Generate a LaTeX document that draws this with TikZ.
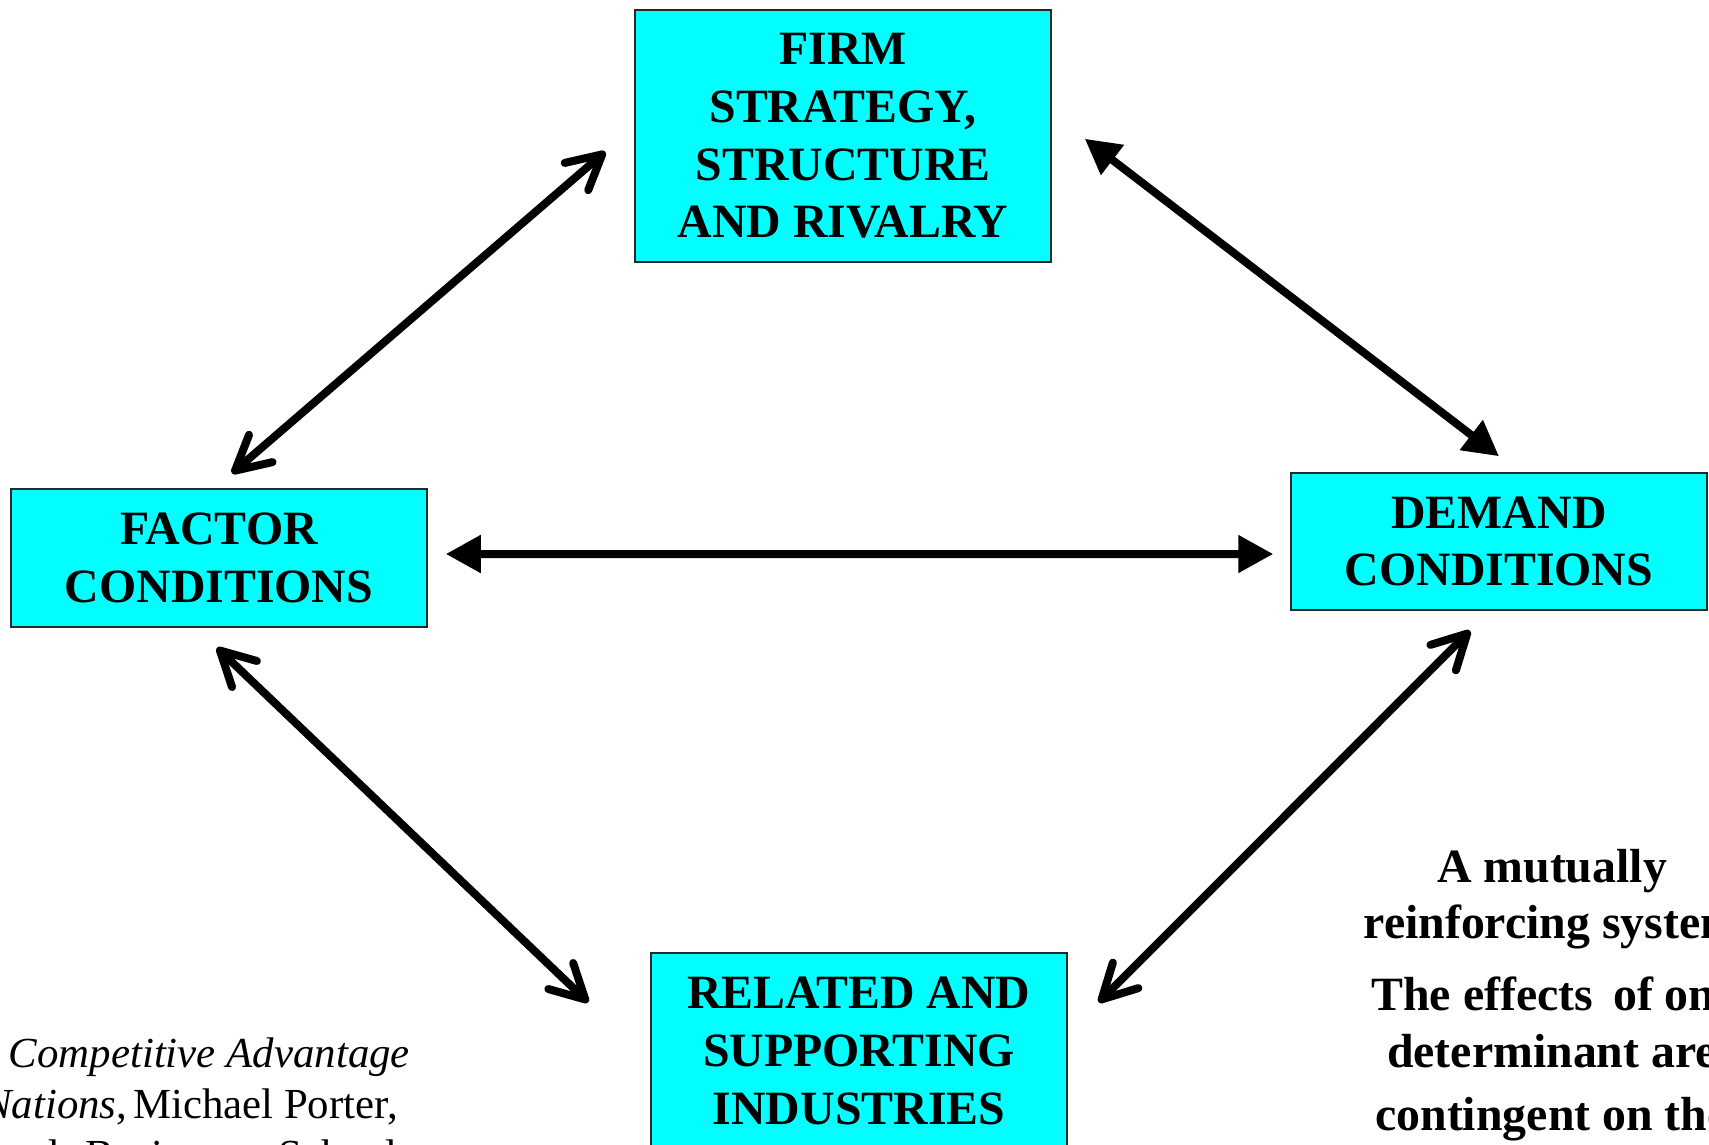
\documentclass[tikz,border=0pt]{standalone}
\usepackage{fontspec}
\setmainfont{Liberation Serif}
\usetikzlibrary{arrows.meta}

\definecolor{boxaqua}{RGB}{0,255,255}
\definecolor{boxedge}{RGB}{40,40,40}

\tikzset{
  det/.style={draw=boxedge, line width=1.5bp, fill=boxaqua, minimum width=416bp,
    inner sep=0pt, align=center, font=\bfseries\fontsize{48}{58}\selectfont},
  note/.style={inner sep=0pt, font=\bfseries\fontsize{48}{58}\selectfont},
  source/.style={inner sep=0pt, font=\fontsize{43}{51}\selectfont},
  link/.style={line width=8bp, black},
  barblink/.style={link,
    {Straight Barb[length=34bp,width=36bp,line cap=round,line join=round]}-{Straight Barb[length=34bp,width=36bp,line cap=round,line join=round]}},
  solidlink/.style={link,
    {Triangle[length=35bp,width=36bp]}-{Triangle[length=35bp,width=36bp]}},
}

\begin{document}
\begin{tikzpicture}[x=1bp, y=-1bp]
\useasboundingbox (0,0) rectangle (1709,1144);
\clip (0,0) rectangle (1709,1144);
\fill[white] (0,0) rectangle (1709,1144);

% the four determinants
\node[det, minimum height=252bp] (firm) at (843,136)
  {FIRM\\STRATEGY,\\STRUCTURE\\AND RIVALRY};
\node[det, minimum height=138bp] (factor) at (219,558)
  {FACTOR\\CONDITIONS};
\node[det, minimum height=137bp] (demand) at (1499,541.5)
  {DEMAND\\CONDITIONS};
\node[det, minimum height=196bp] (related) at (859,1051)
  {RELATED AND\\SUPPORTING\\INDUSTRIES};

% two-way links between the determinants
\draw[barblink] ([shift={(13,-15)}]factor.north) -- ([shift={(-29,-111)}]firm.south west);
\draw[solidlink] ([shift={(33,-124)}]firm.south east) -- ([shift={(0,-16)}]demand.north);
\draw[solidlink] ([shift={(18,-4)}]factor.east) -- ([shift={(-17,12.5)}]demand.west);
\draw[barblink] ([shift={(-2,20)}]factor.south) -- ([shift={(-62,50)}]related.north west);
\draw[barblink] ([shift={(-29,20)}]demand.south) -- ([shift={(31,50)}]related.north east);

% side remarks
\node[note, anchor=base] (sys1) at (1552,882) {A mutually};
\node[note, anchor=base] (sys2) at (1552,938) {reinforcing system};
\node[note, anchor=base] (eff1) at (1554,1010) {The effects\hspace{8bp} of one};
\node[note, anchor=base] (eff2) at (1552,1067) {determinant are};
\node[note, anchor=base] (eff3) at (1552,1130) {contingent on the};

% source reference (justified lines)
\node[source, anchor=base east] (src1) at (410,1067) {\itshape Competitive Advantage};
\node[source, anchor=base east] (src2) at (398,1118) {\textit{of Nations},\hspace{-5bp} Michael Porter,};
\node[source, anchor=base west] (src3) at (-82,1169) {Harvard\hspace{16bp} Business\hspace{30bp} School};
\end{tikzpicture}
\end{document}
